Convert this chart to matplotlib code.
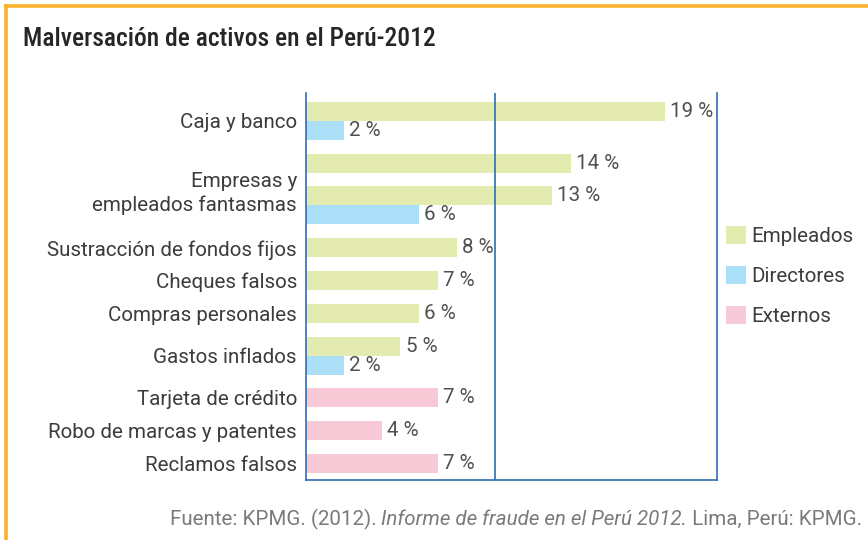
import matplotlib.pyplot as plt
from matplotlib.patches import Patch
from matplotlib.lines import Line2D

plt.rcParams['font.family'] = ['Roboto', 'DejaVu Sans']

# datos (%)
categorias = ["Caja y banco", "Empresas y\nempleados fantasmas",
              "Sustracción de fondos fijos", "Cheques falsos",
              "Compras personales", "Gastos inflados", "Tarjeta de crédito",
              "Robo de marcas y patentes", "Reclamos falsos"]
empleados = [[19], [14, 13], [8], [7], [6], [5], [], [], []]
directores = [[2], [6], [], [], [], [2], [], [], []]
externos = [[], [], [], [], [], [], [7], [4], [7]]

series = ["Empleados", "Directores", "Externos"]
colores = {"Empleados": "#e3ebb1", "Directores": "#aadff7", "Externos": "#f8c9d7"}
azul = "#2f6db5"
texto = "#3c3c3c"
fs = 14.8

fig = plt.figure(figsize=(8.68, 5.4), dpi=100)
ax = fig.add_axes([306/868, 60/540, 411/868, 387/540])

# posiciones: barras de altura 1, separadas por un hueco; directores pegado a la anterior
alto = 1.0
hueco = 0.726
y = 0.47
centros = []
primera = True
for i in range(len(categorias)):
    if not primera:
        y += hueco
    primera = False
    inicio = y
    barras = [("Empleados", v) for v in empleados[i]] + \
             [("Externos", v) for v in externos[i]]
    for j, (s, v) in enumerate(barras):
        if j > 0:
            y += hueco
        ax.barh(y + alto/2, v, height=alto, color=colores[s], linewidth=0)
        ax.text(v + 0.27, y + alto/2, f"{v} %", va='center', ha='left',
                fontsize=fs, color="#505050")
        y += alto
    for v in directores[i]:
        ax.barh(y + alto/2, v, height=alto, color=colores["Directores"], linewidth=0)
        ax.text(v + 0.27, y + alto/2, f"{v} %", va='center', ha='left',
                fontsize=fs, color="#505050")
        y += alto
    centros.append((inicio + y) / 2)
y += 0.37

ax.set_ylim(y, 0)
ax.set_xlim(0, 21.75)
ax.axvline(10, color=azul, lw=1.2)
ax.spines['top'].set_visible(False)
for lado in ['left', 'right', 'bottom']:
    ax.spines[lado].set_color(azul)
    ax.spines[lado].set_linewidth(1.2)
ax.set_xticks([])
ax.set_yticks(centros)
ax.set_yticklabels(categorias, fontsize=fs, color=texto)
ax.tick_params(axis='y', length=0, pad=6.5)
for lab in ax.get_yticklabels():
    lab.set_linespacing(1.3)

# leyenda
handles = [Patch(facecolor=colores[s], edgecolor='none') for s in series]
fig.legend(handles, series, loc='upper left', bbox_to_anchor=(726/868, 1 - 226/540),
           frameon=False, fontsize=fs, handlelength=0.97, handleheight=0.97,
           labelspacing=0.97, handletextpad=0.25, borderpad=0, borderaxespad=0,
           labelcolor=texto)

# título
fig.text(23/868, 1 - 46/540, "Malversación de activos en el Perú-2012",
         fontsize=18.4, color="#262626", ha='left', va='baseline', weight='medium',
         family=['Roboto Condensed', 'Liberation Sans Narrow', 'Roboto'])

# marco naranja (solo arriba e izquierda)
fig.add_artist(Line2D([5.5/868, 1], [1 - 5.5/540] * 2, color="#fbb12c", lw=2.6,
                      transform=fig.transFigure))
fig.add_artist(Line2D([5.5/868] * 2, [0, 1 - 5.5/540], color="#fbb12c", lw=2.6,
                      transform=fig.transFigure))

# fuente, de derecha a izquierda
partes = [(" Lima, Perú: KPMG.", 'normal'),
          ("Informe de fraude en el Perú 2012.", 'italic'),
          ("Fuente: KPMG. (2012). ", 'normal')]
fig.canvas.draw()
rend = fig.canvas.get_renderer()
x = 862
for txt, estilo in partes:
    t = fig.text(x/868, 1 - 525/540, txt, fontsize=fs, color="#7a7a7a",
                 ha='right', va='baseline', style=estilo)
    x -= t.get_window_extent(rend).width

fig.savefig("out.png", dpi=100)
